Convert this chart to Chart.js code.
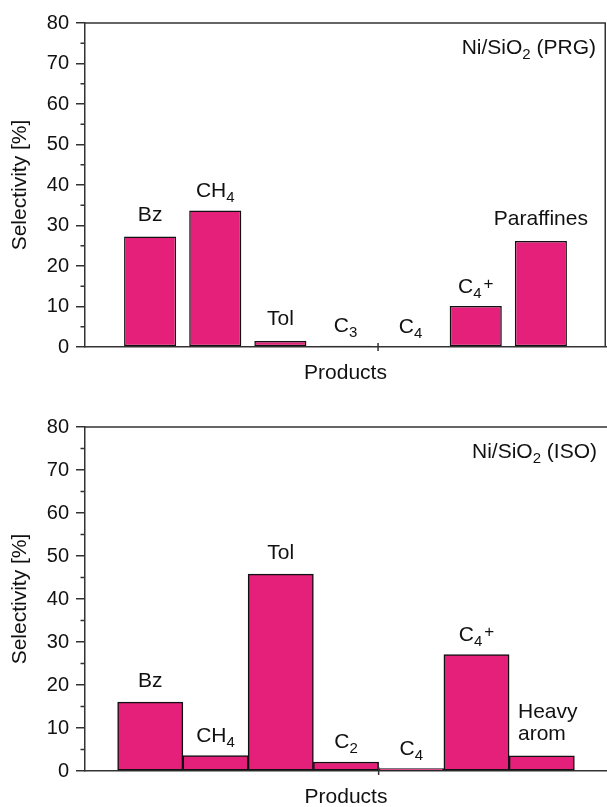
<!DOCTYPE html>
<html>
<head>
<meta charset="utf-8">
<title>Product selectivity over Ni/SiO2</title>
<script src="https://cdn.jsdelivr.net/npm/chart.js@4.4.1/dist/chart.umd.min.js"></script>
<style>
  html, body { margin: 0; padding: 0; background: #fff; overflow: hidden; }
  #wrap { position: relative; width: 607px; height: 807px; }
  canvas { position: absolute; left: 0; display: block; }
  #c1 { top: 0; }
  #c2 { top: 400px; }
</style>
</head>
<body>
<div id="wrap">
  <canvas id="c1" width="607" height="400"></canvas>
  <canvas id="c2" width="607" height="407"></canvas>
</div>
<script>
// Product labels use "_x" for a subscript, "^x" for a superscript, "\n" for a line break.
const productsPRG = ['Bz', 'CH_4', 'Tol', 'C_3', 'C_4', 'C_4^+', 'Paraffines'];
const selectivityPRG = [27.3, 33.7, 1.5, 0.3, 0.2, 10.1, 26.2];

const productsISO = ['Bz', 'CH_4', 'Tol', 'C_2', 'C_4', 'C_4^+', 'Heavy\narom'];
const selectivityISO = [16.0, 3.6, 45.8, 2.1, 0.55, 27.1, 3.5];

const yMajorTicks = [0, 10, 20, 30, 40, 50, 60, 70, 80];
const yMinorTicks = [5, 15, 25, 35, 45, 55, 65, 75];
const xMarkTicks = [4.5];

const catalystPRG = 'Ni/SiO_2 (PRG)';
const catalystISO = 'Ni/SiO_2 (ISO)';
const yTitle = 'Selectivity [%]';
const xTitle = 'Products';

const FONT = '"Liberation Sans", Arial, Helvetica, sans-serif';
const INK = '#111111';
const AXIS = '#333333';
const BAR_FILL = '#E5207A';
const TICK_SIZE = 20, SIZE = 21, SUB = 15, SUP = 17;

function parseRich(str) {
  const segs = [];
  let buf = '';
  for (let i = 0; i < str.length; i++) {
    const ch = str[i];
    if ((ch === '_' || ch === '^') && i + 1 < str.length) {
      if (buf) { segs.push({ t: buf, k: 'n' }); buf = ''; }
      segs.push({ t: str[i + 1], k: ch === '_' ? 'sub' : 'sup' });
      i++;
    } else {
      buf += ch;
    }
  }
  if (buf) segs.push({ t: buf, k: 'n' });
  return segs;
}

function segFont(k) {
  return (k === 'n' ? SIZE : k === 'sub' ? SUB : SUP) + 'px ' + FONT;
}

function richWidth(ctx, segs) {
  let w = 0;
  segs.forEach(s => {
    ctx.font = segFont(s.k);
    if (s.k === 'sup') w += 2;
    w += ctx.measureText(s.t).width;
  });
  return w;
}

function drawRich(ctx, segs, x, y) {
  let cx = x;
  segs.forEach(s => {
    ctx.font = segFont(s.k);
    if (s.k === 'sup') cx += 2;
    const dy = s.k === 'sub' ? 5 : s.k === 'sup' ? -4 : 0;
    ctx.fillText(s.t, cx, y + dy);
    cx += ctx.measureText(s.t).width;
  });
}

// Bar captions, catalyst tag, frame edges and the small tick marks.
const panelDecor = {
  id: 'panelDecor',
  afterDatasetsDraw(chart, args, opts) {
    const { ctx, chartArea: a, scales: { x, y } } = chart;
    const meta = chart.getDatasetMeta(0);
    ctx.save();
    ctx.fillStyle = INK;
    ctx.textAlign = 'left';
    ctx.textBaseline = 'alphabetic';

    opts.labels.forEach((lab, i) => {
      const bar = meta.data[i];
      const lines = lab.split('\n').map(parseRich);
      const widths = lines.map(l => richWidth(ctx, l));
      const maxW = Math.max(...widths);
      const last = lines[lines.length - 1];
      const hasSub = last.some(s => s.k === 'sub');
      const base = bar.y - (hasSub ? 13.5 : 15.5);
      lines.forEach((l, j) => {
        const by = base - (lines.length - 1 - j) * 22;
        // multi-line captions share one left edge
        const left = lines.length > 1 ? bar.x - maxW / 2 + 6 : bar.x - widths[j] / 2;
        drawRich(ctx, l, left, by);
      });
    });

    const tag = parseRich(opts.tag);
    drawRich(ctx, tag, a.right - 10 - richWidth(ctx, tag), a.top + 31);

    ctx.strokeStyle = AXIS;
    ctx.lineWidth = 1.5;
    ctx.beginPath();
    ctx.moveTo(a.left, a.top);
    ctx.lineTo(a.right, a.top);
    if (opts.rightEdge) {
      ctx.moveTo(a.right - 0.75, a.top);
      ctx.lineTo(a.right - 0.75, a.bottom);
    }
    yMinorTicks.forEach(v => {
      const py = y.getPixelForValue(v);
      ctx.moveTo(a.left - 4.5, py);
      ctx.lineTo(a.left, py);
    });
    xMarkTicks.forEach(v => {
      const px = x.getPixelForValue(v);
      ctx.moveTo(px, a.bottom - 4);
      ctx.lineTo(px, a.bottom + 4);
    });
    ctx.stroke();
    ctx.restore();
  }
};

function makeChart(id, labels, values, o) {
  return new Chart(document.getElementById(id), {
    type: 'bar',
    data: {
      datasets: [{
        data: values.map((v, i) => ({ x: i + 1, y: v })),
        backgroundColor: BAR_FILL,
        borderColor: INK,
        borderWidth: 1.5,
        borderSkipped: false,
        barPercentage: o.barPct,
        categoryPercentage: 1
      }]
    },
    options: {
      responsive: false,
      animation: false,
      devicePixelRatio: 1,
      layout: { padding: { top: o.padTop, right: o.padRight, left: 0, bottom: 0 } },
      plugins: {
        legend: { display: false },
        tooltip: { enabled: false },
        panelDecor: { labels: labels, tag: o.tag, rightEdge: o.rightEdge }
      },
      scales: {
        x: {
          type: 'linear',
          offset: false,
          min: 0,
          max: 8,
          afterBuildTicks: s => { s.ticks = xMarkTicks.map(v => ({ value: v })); },
          afterFit: s => { s.height = o.xAxisH; },
          ticks: { display: false },
          grid: { display: false, offset: false },
          border: { display: true, color: AXIS, width: 1.5 },
          title: {
            display: true, text: xTitle, color: INK,
            font: { family: FONT, size: SIZE },
            padding: { top: 0, bottom: o.xTitlePad }
          }
        },
        y: {
          type: 'linear',
          min: 0,
          max: 80,
          afterBuildTicks: s => { s.ticks = yMajorTicks.map(v => ({ value: v })); },
          afterFit: s => { s.width = 85; },
          ticks: { color: INK, font: { family: FONT, size: TICK_SIZE }, padding: 7 },
          grid: { drawOnChartArea: false, drawTicks: true, tickLength: 9, color: AXIS, lineWidth: 1.5 },
          border: { display: true, color: AXIS, width: 1.5 },
          title: {
            display: true, text: yTitle, color: INK,
            font: { family: FONT, size: SIZE },
            padding: { top: 8, bottom: 0 }
          }
        }
      }
    },
    plugins: [panelDecor]
  });
}

makeChart('c1', productsPRG, selectivityPRG, {
  barPct: 0.8, padTop: 23, padRight: 1, xAxisH: 53, xTitlePad: 14,
  tag: catalystPRG, rightEdge: true
});

makeChart('c2', productsISO, selectivityISO, {
  barPct: 1.0, padTop: 27, padRight: 0, xAxisH: 36, xTitlePad: -2.5,
  tag: catalystISO, rightEdge: false
});
</script>
</body>
</html>
